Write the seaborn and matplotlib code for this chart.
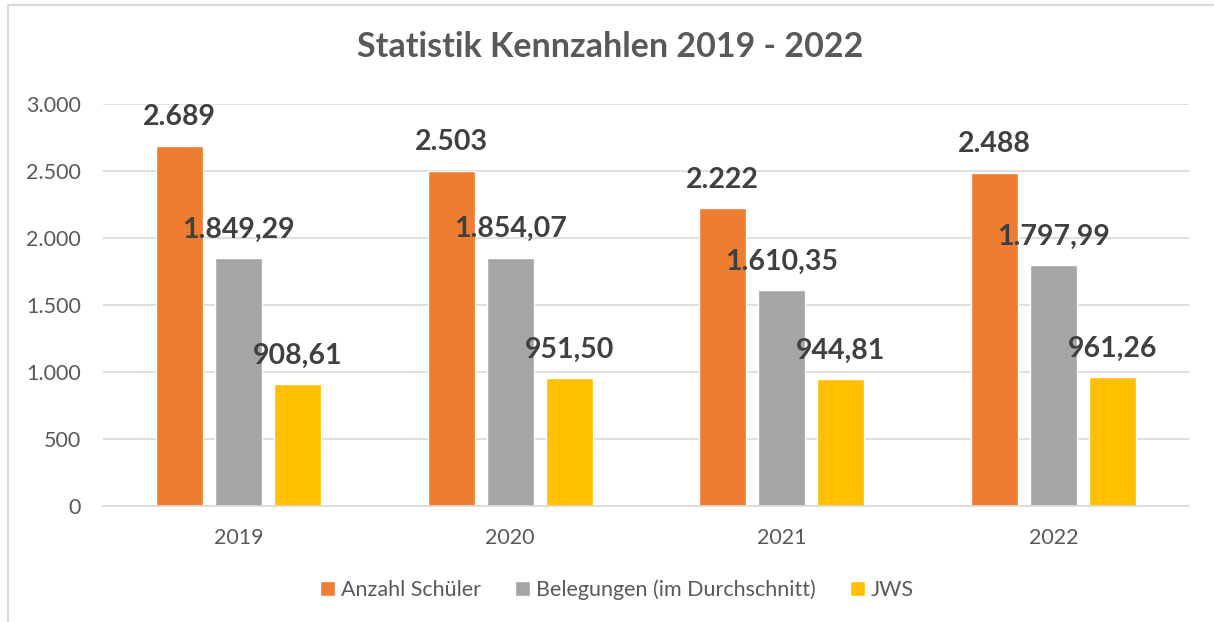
import seaborn as sns
import matplotlib.pyplot as plt
import pandas as pd
import matplotlib
from matplotlib.ticker import FuncFormatter
from matplotlib.patches import Rectangle
matplotlib.use('Agg')

# data
years = ['2019', '2020', '2021', '2022']
series = ['Anzahl Schüler', 'Belegungen (im Durchschnitt)', 'JWS']
schueler = [2689, 2503, 2222, 2488]
belegungen = [1849.29, 1854.07, 1610.35, 1797.99]
jws = [908.61, 951.50, 944.81, 961.26]
colors = ['#ED7D31', '#A5A5A5', '#FFC000']

df = pd.DataFrame({
    'Jahr': years * 3,
    'Serie': [series[0]] * 4 + [series[1]] * 4 + [series[2]] * 4,
    'Wert': schueler + belegungen + jws,
})


def de_num(v, decimals):
    s = f'{v:,.{decimals}f}'
    return s.replace(',', 'X').replace('.', ',').replace('X', '.')


sns.set_style('white')
plt.rcParams['font.family'] = ['Lato', 'DejaVu Sans']
text_col = '#595959'
grid_col = '#D9D9D9'

fig = plt.figure(figsize=(12.14, 6.22), dpi=100)
ax = fig.add_axes([103 / 1214, 116 / 622, 1086 / 1214, 402 / 622])

sns.barplot(data=df, x='Jahr', y='Wert', hue='Serie', palette=colors,
            width=0.652, gap=0.2, ax=ax, saturation=1, legend=True)

# data labels
for i, cont in enumerate(ax.containers):
    dec = 0 if i == 0 else 2
    for bar in cont:
        h = bar.get_height()
        ax.annotate(de_num(h, dec), (bar.get_x() + bar.get_width() / 2, h),
                    xytext=(0, 11), textcoords='offset points',
                    ha='center', va='bottom', fontsize=20.5, fontweight='bold',
                    color='#404040')

ax.set_ylim(0, 3000)
ax.set_yticks(range(0, 3001, 500))
ax.yaxis.set_major_formatter(FuncFormatter(lambda v, p: de_num(v, 0)))
ax.grid(axis='y', color=grid_col, linewidth=1.2)
ax.set_axisbelow(True)
for s in ['top', 'right', 'left']:
    ax.spines[s].set_visible(False)
ax.spines['bottom'].set_color(grid_col)
ax.spines['bottom'].set_linewidth(1.2)
ax.tick_params(axis='y', length=0, pad=16, labelsize=15.5, labelcolor=text_col)
ax.tick_params(axis='x', length=0, pad=16, labelsize=15.5, labelcolor=text_col)
ax.set_xlabel('')
ax.set_ylabel('')

fig.text(0.5025, 1 - 47 / 622, 'Statistik Kennzahlen 2019 - 2022', ha='center', va='center',
         fontsize=24.5, fontweight='bold', color=text_col)

handles, labels = ax.get_legend_handles_labels()
ax.get_legend().remove()
fig.legend(handles, labels, loc='center', bbox_to_anchor=(0.508, 1 - 590 / 622),
           ncol=3, frameon=False, fontsize=15.5, labelcolor=text_col,
           handlelength=0.7, handleheight=0.7, handletextpad=0.25, columnspacing=1.6)

# chart border (top and left edges visible)
fig.patches.append(Rectangle((8 / 1214, -0.1), 1.2, 1 - 5 / 622 + 0.1,
                             transform=fig.transFigure, fill=False,
                             edgecolor=grid_col, linewidth=1.5))

plt.savefig('out.png', dpi=100)
